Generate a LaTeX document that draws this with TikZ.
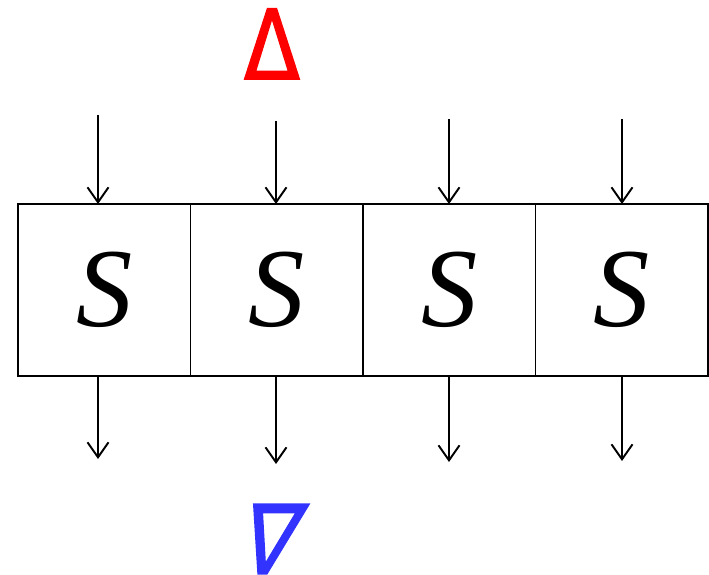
\documentclass[tikz,border=0pt]{standalone}
\usepackage{fontspec}
\setmainfont{Liberation Serif}
\newfontfamily\symfont[FakeBold=1.6]{DejaVu Sans}
\usetikzlibrary{arrows.meta,positioning}
\definecolor{deltared}{RGB}{255,0,0}
\definecolor{nablablue}{RGB}{51,51,255}

\begin{document}
\begin{tikzpicture}[
  blk/.style={draw, rectangle, minimum width=3.45cm, minimum height=3.44cm,
    inner sep=0pt, outer sep=0pt, line width=1.1pt,
    font=\fontsize{64}{64}\selectfont\itshape},
  lnk/.style={-{Straight Barb[length=3mm,width=4.2mm]}, line width=1.1pt},
  sym/.style={inner sep=0pt, transform shape,
    font=\symfont\fontsize{55}{55}\selectfont},
]
\useasboundingbox (0,0) rectangle (14.18,-11.5);
% the four S blocks
\node[blk] (b1) at (2.085,-5.8) {S};
\node[blk, right=0pt of b1] (b2) {S};
\node[blk, right=0pt of b2] (b3) {S};
\node[blk, right=0pt of b3] (b4) {S};
% free ends of the arrows
\coordinate (in1) at (1.96,-2.30);
\coordinate (in2) at (5.52,-2.42);
\coordinate (in3) at (8.98,-2.38);
\coordinate (in4) at (12.44,-2.38);
\coordinate (out1) at (1.96,-9.18);
\coordinate (out2) at (5.52,-9.28);
\coordinate (out3) at (8.98,-9.24);
\coordinate (out4) at (12.44,-9.22);
\foreach \i in {1,...,4} {
  \draw[lnk] (in\i) -- (in\i |- b\i.north);
  \draw[lnk] (out\i |- b\i.south) -- (out\i);
}
% delta and nabla
\node[sym, text=deltared, xscale=0.85] (delta) at (5.44,-0.88) {Δ};
\node[sym, text=nablablue, xscale=0.85, xslant=0.32] (nabla) at (5.44,-10.78) {∇};
\end{tikzpicture}
\end{document}
